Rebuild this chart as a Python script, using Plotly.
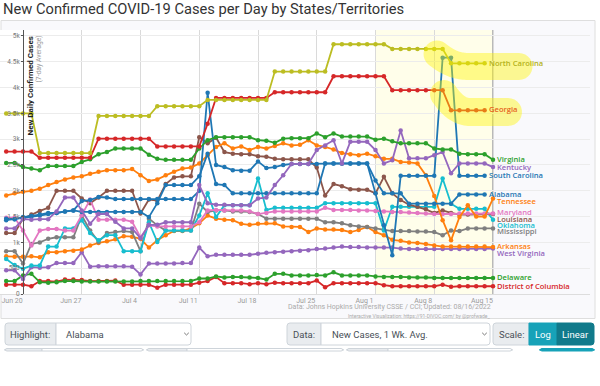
import numpy as np
import pandas as pd
import plotly.graph_objects as go

# ---------------- data ----------------
dates = pd.date_range("2022-06-18", "2022-08-15", freq="D")  # 59 days

north_carolina = [3500]*4 + [2730]*7 + [3450]*7 + [3640]*6 + [3760]*8 + [4310]*7 + [4840]*7 + [4750]*7 + [4470]*5 + [None]
georgia = [2760]*4 + [2640]*7 + [3010]*7 + [2860]*6 + [3300] + [3800]*7 + [3910]*7 + [4220]*7 + [3950]*7 + [3560]*5 + [None]
virginia = [2540, 2540, 2460, 2430, 2400, 2480, 2480, 2480, 2480, 2560, 2610, 2710, 2750, 2820, 2820, 2820, 2820, 2700, 2620, 2600,
            2600, 2600, 2600, 2820, 2980, 3040, 3040, 3040, 3040, 3040, 2980, 2970, 2930, 3010, 3020, 3020, 3020, 3110, 3040, 3110,
            3050, 3050, 3050, 3050, 2990, 3010, 2960, 2920, 2920, 2920, 2920, 2820, 2800, 2800, 2720, 2710, 2710, 2710, 2600]
kentucky = [1270, 1270, 1450, 1440, 1450, 1450, 1600, 1870, 1870, 1620, 1360, 1550, 1550, 1400, 1270, 1270, 1080, 1340, 1340, 1390,
            1390, 1390, 1390, 2110, 1760, 1730, 1730, 1720, 1720, 1720, 1850, 1870, 2110, 2300, 2520, 2520, 2520, 2790, 2880, 2980,
            2530, 2950, 2950, 2950, 2790, 2530, 2590, 3170, 2630, 2630, 2630, 2690, 2750, 2340, 2530, 2530, 2530, 2530, 2460]
south_carolina = [1430, 1450, 1470, 1500, 1520, 1550, 1570, 1600, 1620, 1800, 1820, 1880, 1870, 1840, 1840, 1840, 1840, 1840, 1840, 1840,
                  1840, 1840, 1840, 2000, 3900, 2500, 2460, 2400, 2390, 2390, 2570, 2440, 2460, 2500, 2520, 2520, 2520, 2520, 2530, 2530,
                  2530, 2530, 2530, 2530, 1950, 1330, 750, 2290, 2290, 2290, 2290, 2290, 4580, 4580, 2290, 2290, 2290, 2290, None]
alabama = [1460, 1450, 1490, 1510, 1540, 1570, 1570, 1600, 1620, 1590, 1590, 1590, 1590, 1590, 1590, 1590, 1590, 1490, 1760, 2110,
           2110, 2110, 2110, 2280, 2720, 2130, 2110, 1950, 1950, 1950, 1950, 1950, 1950, 1950, 1950, 1950, 1950, 1950, 2530, 2530,
           2530, 2530, 2530, 2530, 2200, 1950, 1950, 1950, 1750, 1750, 1750, 1750, 1750, 1750, 1930, 1930, 1930, 1930, None]
tennessee = [1910, 1950, 1980, 2000, 2040, 2110, 2170, 2220, 2260, 2280, 2330, 2370, 2400, 2400, 2400, 2420, 2300, 2190, 2220, 2300,
             2370, 2430, 2450, 2530, 2690, 2850, 2920, 2820, 2860, 2790, 2850, 2820, 2870, 2920, 2880, 2890, 2980, 2880, 2850, 2800,
             2730, 2710, 2690, 2720, 2670, 2620, 2620, 2560, 2550, 2530, 2300, 1900, 1430, 1040, 1490, 1720, 1500, 1500, 1850]
louisiana = [1180, 1180, 1460, 1540, 1610, 1670, 2000, 2000, 2000, 1850, 1760, 1870, 2000, 2000, 2000, 2000, 1560, 1830, 1810, 2130,
             2260, 2280, 2280, 3040, 2920, 3030, 2750, 2720, 2710, 2710, 2670, 2660, 2620, 2610, 2610, 2610, 2610, 2450, 1910, 2130,
             2090, 2030, 2020, 2020, 1950, 2270, 1950, 1820, 1730, 1690, 1640, 1570, 1620, 1570, 1540, 1540, 1540, 1540, 1550]
maryland = [1480, 1480, 1230, 940, 1230, 1260, 1260, 1230, 1230, 1530, 1830, 1440, 1440, 1440, 1440, 1400, 1100, 1330, 1310, 1310,
            1310, 1310, 1310, 1390, 1620, 1630, 1620, 1620, 1620, 1600, 1550, 1570, 1600, 1600, 1600, 1600, 1600, 1600, 1670, 1630,
            1630, 1630, 1620, 1620, 1610, 1600, 1590, 1590, 1580, 1570, 1560, 1550, 1550, 1550, 1560, 1560, 1560, 1560, 1560]
oklahoma = [680, 560, 490, 550, 550, 920, 920, 1270, 1270, 1430, 1180, 1040, 1140, 1140, 830, 830, 830, 1390, 1010, 1230,
            1230, 1230, 1230, 1520, 1950, 1490, 1720, 1720, 1720, 1720, 2240, 1630, 1670, 1670, 1670, 1670, 1670, 1670, 1760, 1760,
            1760, 1760, 1760, 1760, 1760, 1230, 1690, 1690, 1690, 1690, 1690, 1690, 2240, 1750, 1650, 1650, 1650, 1650, 1440]
mississippi = [830, 830, 590, 970, 1000, 1070, 1100, 1100, 1100, 1520, 1230, 1010, 1180, 1200, 1220, 1200, 830, 1460, 1330, 1230,
               1230, 1230, 1230, 1750, 1590, 1620, 1620, 1600, 1600, 1590, 1550, 1460, 1460, 1460, 1460, 1460, 1460, 1460, 1390, 1390,
               1370, 1330, 1310, 1300, 1270, 1250, 1220, 1220, 1220, 1210, 1210, 1200, 1140, 1230, 1220, 1270, 1270, 1270, 1270]
arkansas = [730, 720, 720, 730, 710, 810, 810, 830, 840, 860, 940, 990, 1020, 1060, 1120, 1110, 1070, 900, 1040, 1140,
            1220, 1220, 1270, 1370, 1520, 1460, 1440, 1430, 1360, 1340, 1360, 1370, 1370, 1310, 1300, 1300, 1200, 1270, 1250, 1250,
            1240, 1200, 1240, 1300, 1200, 1140, 1050, 1030, 1000, 990, 970, 940, 920, 920, 920, 920, 920, 920, 910]
west_virginia = [460, 460, 290, 520, 510, 520, 600, 600, 600, 810, 530, 540, 540, 540, 540, 530, 380, 590, 590, 590,
                 590, 600, 600, 900, 730, 760, 760, 760, 760, 760, 780, 800, 810, 820, 830, 840, 850, 870, 880, 900,
                 920, 910, 910, 900, 900, 900, 900, 880, 870, 870, 870, 870, 870, 870, 870, 870, 870, 870, 880]
delaware = [250, 250, 360, 390, 230, 220, 230, 250, 250, 240, 240, 240, 240, 240, 240, 240, 250, 250, 250, 250,
            250, 250, 250, 300, 300, 340, 320, 330, 330, 320, 310, 280, 390, 390, 360, 360, 360, 370, 360, 420,
            360, 360, 360, 360, 340, 330, 330, 330, 320, 320, 320, 310, 310, 310, 310, 310, 310, 310, 310]
district_of_columbia = [180, 180, 180, 150, 250, 250, 240, 280, 280, 270, 250, 250, 250, 260, 180, 180, 180, 180, 120, 180,
                        180, 180, 180, 220, 250, 330, 210, 210, 210, 190, 210, 190, 220, 210, 210, 210, 210, 260, 130, 210,
                        210, 210, 210, 210, 210, 170, 150, 150, 150, 150, 150, 150, 180, 140, 150, 150, 150, 150, 150]

note_dates = ["2022-07-05", "2022-08-02", "2022-08-03"]
y_ticks = list(range(0, 5001, 500))
x_ticks = pd.date_range("2022-06-20", "2022-08-15", freq="7D")

# name, values, line colour, label colour, label pixel y
series = [
    ("District of Columbia", district_of_columbia, "#d62728", "#d62728", 286),
    ("Delaware", delaware, "#2ca02c", "#2ca02c", 277),
    ("West Virginia", west_virginia, "#9467bd", "#9467bd", 253),
    ("Arkansas", arkansas, "#ff7f0e", "#ff7f0e", 246),
    ("Mississippi", mississippi, "#7f7f7f", "#7f7f7f", 231),
    ("Oklahoma", oklahoma, "#17becf", "#17becf", 224.5),
    ("Louisiana", louisiana, "#8c564b", "#8c564b", 218.5),
    ("Maryland", maryland, "#e377c2", "#e377c2", 212),
    ("Tennessee", tennessee, "#ff7f0e", "#ff7f0e", 201),
    ("Alabama", alabama, "#1f77b4", "#1f77b4", 194),
    ("South Carolina", south_carolina, "#1f77b4", "#1f77b4", 175),
    ("Kentucky", kentucky, "#9467bd", "#9467bd", 166.5),
    ("Virginia", virginia, "#2ca02c", "#2ca02c", 159),
    ("Georgia", georgia, "#d62728", "#e5621c", 109),
    ("North Carolina", north_carolina, "#bcbd22", "#b4b21a", 63),
]
for n, v, *_ in series:
    assert len(v) == len(dates), (n, len(v))

# ---------------- geometry helpers ----------------
W, H = 600, 386
ML, MR, MT, MB = 0, 10, 30, 92
PW, PH = W - ML - MR, H - MT - MB


def X(px):
    return (px - ML) / PW


def Y(py):
    return (H - MB - py) / PH


base = pd.Timestamp("2022-06-20")
px_per_day = 470 / 56.0
x0_range = base + pd.Timedelta(days=-23 / px_per_day)
x1_range = base + pd.Timedelta(days=(PW - 23) / px_per_day)
fmt = "%Y-%m-%d %H:%M:%S"

fig = go.Figure()

for name, vals, col, lcol, ly in series:
    fig.add_trace(go.Scatter(
        x=dates, y=vals, mode="lines+markers", name=name,
        line=dict(color=col, width=1.8), marker=dict(size=4.5, color=col),
        showlegend=False, hoverinfo="skip"))

fig.add_trace(go.Scatter(x=note_dates, y=[-45] * 3, mode="markers",
                         marker=dict(size=5, color="#1f77b4"), cliponaxis=False,
                         showlegend=False, hoverinfo="skip"))

shapes = []
# card background
shapes.append(dict(type="rect", xref="paper", yref="paper", x0=X(1), x1=X(595), y0=Y(318.5), y1=Y(20.5),
                   fillcolor="#f9f9fc", line=dict(color="#dedede", width=1), layer="below"))
# plot area (white) and recent-data band (cream)
shapes.append(dict(type="rect", xref="x", yref="paper", x0=x0_range.strftime(fmt), x1="2022-08-15",
                   y0=0, y1=1, fillcolor="white", line=dict(width=0), layer="below"))
shapes.append(dict(type="rect", xref="x", yref="paper", x0="2022-08-01", x1="2022-08-15",
                   y0=0, y1=1, fillcolor="#fffeea", line=dict(width=0), layer="below"))
# label region cover (hides gridlines)
shapes.append(dict(type="rect", xref="x", yref="paper", x0="2022-08-15", x1=x1_range.strftime(fmt),
                   y0=0, y1=1.01, fillcolor="#f9f9fc", line=dict(width=0), layer="between"))
shapes.append(dict(type="line", xref="x", yref="paper", x0="2022-08-15", x1="2022-08-15",
                   y0=0, y1=1.0, line=dict(color="#b9b9b9", width=2), layer="between"))


def stroke_path(P0, C, P1, P2, r, n=24):
    t = np.linspace(0, 1, n)
    bx = (1 - t) ** 2 * P0[0] + 2 * (1 - t) * t * C[0] + t ** 2 * P1[0]
    by = (1 - t) ** 2 * P0[1] + 2 * (1 - t) * t * C[1] + t ** 2 * P1[1]
    xs = np.append(bx, P2[0])
    ys = np.append(by, P2[1])
    dx = np.gradient(xs)
    dy = np.gradient(ys)
    L = np.hypot(dx, dy)
    nx, ny = -dy / L, dx / L
    pts = list(zip(xs + r * nx, ys + r * ny))
    ae = np.arctan2(dy[-1], dx[-1])
    for a in np.linspace(ae + np.pi / 2, ae - np.pi / 2, 14):
        pts.append((xs[-1] + r * np.cos(a), ys[-1] + r * np.sin(a)))
    pts += list(zip((xs - r * nx)[::-1], (ys - r * ny)[::-1]))
    a0 = np.arctan2(dy[0], dx[0])
    for a in np.linspace(a0 - np.pi / 2, a0 - 3 * np.pi / 2, 14):
        pts.append((xs[0] + r * np.cos(a), ys[0] + r * np.sin(a)))
    return "M " + " L ".join(f"{X(px):.5f},{Y(py):.5f}" for px, py in pts) + " Z"


for P0, C, P1, P2, r in [((437, 54), (452, 66.5), (468, 66.5), (519, 66.5), 13.5),
                         ((444, 94), (456, 112), (470, 112), (508, 112), 14)]:
    shapes.append(dict(type="path", xref="paper", yref="paper", path=stroke_path(P0, C, P1, P2, r),
                       fillcolor="rgba(255,246,0,0.42)", line=dict(width=0), layer="above"))


def rounded(x0, y0, x1, y1, rl=0, rr=0):
    return (f"M {X(x0 + rl)},{Y(y0)} L {X(x1 - rr)},{Y(y0)} Q {X(x1)},{Y(y0)} {X(x1)},{Y(y0 + rr)} "
            f"L {X(x1)},{Y(y1 - rr)} Q {X(x1)},{Y(y1)} {X(x1 - rr)},{Y(y1)} "
            f"L {X(x0 + rl)},{Y(y1)} Q {X(x0)},{Y(y1)} {X(x0)},{Y(y1 - rl)} "
            f"L {X(x0)},{Y(y0 + rl)} Q {X(x0)},{Y(y0)} {X(x0 + rl)},{Y(y0)} Z")


def box(x0, y0, x1, y1, fill, line, rl=0, rr=0):
    shapes.append(dict(type="path", xref="paper", yref="paper", path=rounded(x0, y0, x1, y1, rl, rr),
                       fillcolor=fill, line=dict(color=line, width=1), layer="above"))


GRAY, BORDER, TEAL, TEAL_D = "#e9ecef", "#ced4da", "#17a2b8", "#117a8b"
box(5, 323, 56, 345, GRAY, BORDER, 3, 0)
box(56, 323, 191, 345, "white", BORDER, 0, 3)
box(287, 323, 321, 345, GRAY, BORDER, 3, 0)
box(321, 323, 490, 345, "white", BORDER, 0, 3)
box(493, 323, 529, 345, GRAY, BORDER, 3, 0)
box(529, 323, 557, 345, TEAL, TEAL)
box(557, 323, 594, 345, TEAL_D, TEAL_D, 0, 3)
# second row (only the top edge is visible)
for a, b, c in [(5, 42, 143), (147, 187, 343), (347, 388, 512)]:
    box(a, 348.5, b, 351, GRAY, BORDER, 2, 0)
    box(b, 348.5, c, 351, "white", BORDER, 0, 2)
box(540, 348.5, 594, 351, TEAL, TEAL, 2, 2)
for cx in (186.5, 484.5):
    shapes.append(dict(type="path", xref="paper", yref="paper",
                       path=f"M {X(cx - 2.3)},{Y(332.8)} L {X(cx)},{Y(335)} L {X(cx + 2.3)},{Y(332.8)}",
                       line=dict(color="#777", width=1), layer="above"))

ann = []
FONT = "Roboto"


def text(px, py, s, size, color, xanchor="left", family=FONT, weight=None, angle=0):
    f = dict(size=size, color=color, family=family)
    if weight:
        f["weight"] = weight
    ann.append(dict(x=X(px), y=Y(py), xref="paper", yref="paper", text=s, showarrow=False,
                    xanchor=xanchor, yanchor="middle", font=f, textangle=angle))


text(1, 9, "New Confirmed COVID-19 Cases per Day by States/Territories", 14.7, "#333")
text(30, 86.5, "New Daily Confirmed Cases", 8, "#222", "center", weight=700, angle=-90)
text(38.5, 59, "(7-day Average)", 6.8, "#999", "center", angle=-90)
text(493, 307, "Data: Johns Hopkins University CSSE / CCI; Updated: 08/16/2022", 7, "#aaa", "right")
text(493, 315.5, "Interactive Visualization: https://91-DIVOC.com/ by @profwade_", 5, "#aaa", "right")
text(30.5, 334, "Highlight:", 9.5, "#495057", "center")
text(64, 334, "Alabama", 9.5, "#495057")
text(304, 334, "Data:", 9.5, "#495057", "center")
text(330, 334, "New Cases, 1 Wk. Avg.", 9.5, "#495057")
text(511, 334, "Scale:", 9.5, "#495057", "center")
text(543, 334, "Log", 9.5, "white", "center")
text(575.5, 334, "Linear", 9.5, "white", "center")

for name, vals, col, lcol, ly in series:
    last = max(i for i, v in enumerate(vals) if v is not None)
    ann.append(dict(x=dates[last].strftime("%Y-%m-%d"), y=Y(ly), xref="x", yref="paper", text=name,
                    showarrow=False, xanchor="left", yanchor="middle", xshift=3, borderpad=0,
                    font=dict(size=7.6, color=lcol, family="Open Sans", weight=600)))

fig.update_layout(
    width=W, height=H, margin=dict(l=ML, r=MR, t=MT, b=MB),
    paper_bgcolor="white", plot_bgcolor="rgba(0,0,0,0)",
    shapes=shapes, annotations=ann, showlegend=False,
    xaxis=dict(type="date", range=[x0_range.strftime(fmt), x1_range.strftime(fmt)],
               tickvals=list(x_ticks), tickformat="%b %-d", ticklabelshift=-11,
               showgrid=True, gridcolor="#dadada", gridwidth=1, zeroline=False,
               showline=True, linecolor="#dddddd", ticks="",
               tickfont=dict(size=7, color="#999", family=FONT)),
    yaxis=dict(range=[0, 5116], anchor="free", position=23 / PW, tickvals=y_ticks, tickformat="~s",
               showgrid=True, gridcolor="#ececec", zeroline=False, showline=True, linecolor="#555",
               linewidth=1, ticks="outside", ticklen=2, tickcolor="#555",
               tickfont=dict(size=6.5, color="#777", family=FONT)),
)

fig.write_html("out.html", config={"displayModeBar": False},
               post_script="document.body.style.margin='0px';document.body.style.padding='0px';")
